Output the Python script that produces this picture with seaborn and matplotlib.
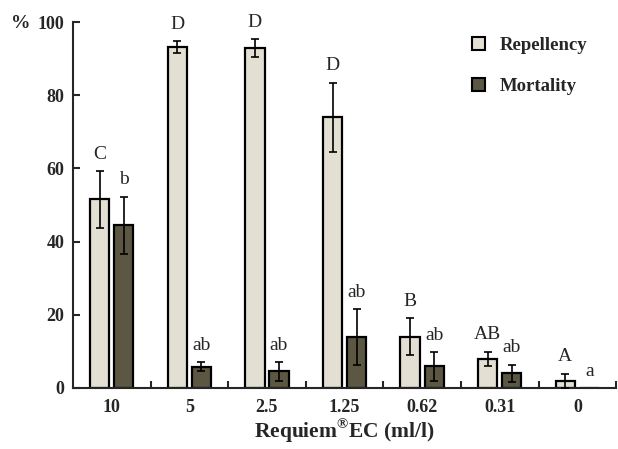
import numpy as np
import pandas as pd
import seaborn as sns
import matplotlib
matplotlib.use('Agg')
import matplotlib.pyplot as plt
from matplotlib.ticker import FixedLocator

conc = ['10', '5', '2.5', '1.25', '0.62', '0.31', '0']
repellency = [51.5, 93.1, 92.8, 74.0, 14.0, 7.9, 1.9]
repellency_err = [7.8, 1.6, 2.5, 9.4, 5.0, 2.0, 2.0]
mortality = [44.5, 5.8, 4.5, 14.0, 5.9, 4.0, 0.0]
mortality_err = [7.8, 1.3, 2.6, 7.6, 3.9, 2.4, 0.0]
rep_letters = ['C', 'D', 'D', 'D', 'B', 'AB', 'A']
mort_letters = ['b', 'ab', 'ab', 'ab', 'ab', 'ab', 'a']

sns.set_style('ticks')
plt.rcParams['font.family'] = ['Liberation Serif', 'DejaVu Serif']
plt.rcParams['mathtext.fontset'] = 'custom'
plt.rcParams['mathtext.rm'] = 'Liberation Serif'
plt.rcParams['mathtext.bf'] = 'Liberation Serif:bold'

df = pd.DataFrame({
    'conc': conc * 2,
    'value': repellency + mortality,
    'group': ['Repellency'] * 7 + ['Mortality'] * 7,
})

fig = plt.figure(figsize=(6.18, 4.49), dpi=100)
ax = fig.add_axes([0.118, 0.136, 0.879, 0.815])

sns.barplot(x='conc', y='value', hue='group', data=df, order=conc,
            hue_order=['Repellency', 'Mortality'],
            palette=['#e6e1cf', '#5f5a3e'], width=0.62, gap=0.2,
            edgecolor='black', linewidth=1.6, errorbar=None, ax=ax)

for cont, errs, letters in zip(ax.containers, [repellency_err, mortality_err],
                               [rep_letters, mort_letters]):
    for bar, e, lab in zip(cont, errs, letters):
        xc = bar.get_x() + bar.get_width() / 2
        h = bar.get_height()
        if e > 0:
            ax.errorbar(xc, h, yerr=e, color='black', capsize=3, elinewidth=1.2,
                        capthick=1.2, zorder=5)
        ax.annotate(lab, (xc, h + e), ha='center', va='bottom', xytext=(0, 6),
                    textcoords='offset points', fontsize=14)

ax.set_xlim(-0.5, 6.5)
ax.set_ylim(0, 100)
ax.set_yticks([0, 20, 40, 60, 80, 100])
ax.tick_params(axis='y', direction='in', length=5, width=1.5, pad=6, labelsize=13)
ax.tick_params(axis='x', which='major', length=0, pad=8, labelsize=13)
ax.xaxis.set_minor_locator(FixedLocator(np.arange(0.5, 7, 1)))
ax.tick_params(axis='x', which='minor', direction='in', length=5, width=1.5)
for lab in ax.get_xticklabels() + ax.get_yticklabels():
    lab.set_fontweight('bold')

for s in ['top', 'right']:
    ax.spines[s].set_visible(False)
for s in ['left', 'bottom']:
    ax.spines[s].set_linewidth(1.5)

ax.set_ylabel('')
ax.set_xlabel('Requiem$^{\\mathbf{®}}$EC (ml/l)', fontsize=15.5, fontweight='bold', labelpad=1)
fig.text(0.018, 0.948, '%', fontsize=14, fontweight='bold', va='center')

leg = ax.legend(loc='upper left', bbox_to_anchor=(0.703, 1.005), frameon=False,
                handlelength=0.7, handleheight=0.7, labelspacing=1.25,
                handletextpad=0.8, prop={'weight': 'bold', 'size': 13.5})
for p in leg.get_patches():
    p.set_linewidth(1.5)

fig.savefig('out.png', dpi=100)
